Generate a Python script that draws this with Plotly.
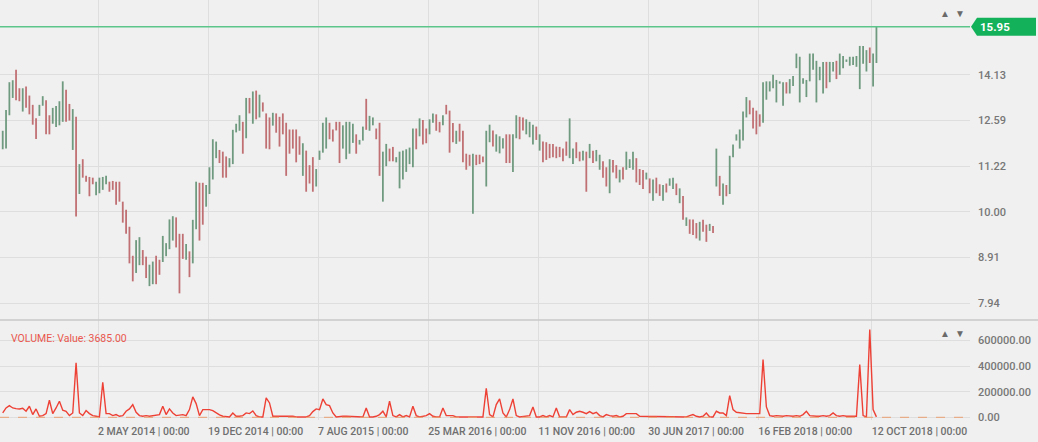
import numpy as np
import pandas as pd
import plotly.graph_objects as go

# ---------------- data ----------------
start_date = "2013-10-14"   # first weekly bar
n_weeks = 263

high = [
    12.27, 12.93, 13.87, 13.94, 14.31, 13.66, 13.66, 13.72, 13.41, 13.10,
    12.66, 13.10, 13.39, 13.25, 12.76, 13.00, 13.06, 13.22, 13.90, 13.61,
    13.13, 12.96, 12.71, 11.28, 11.42, 10.95, 10.92, 10.90, 10.79, 10.90,
    10.92, 10.95, 10.79, 10.81, 10.79, 10.79, 10.26, 10.05, 9.63, 8.95,
    9.31, 9.38, 9.08, 8.93, 8.75, 8.82, 8.95, 8.86, 9.41, 9.24,
    9.81, 9.89, 9.86, 9.46, 9.46, 9.22, 9.05, 9.80, 10.79, 10.76,
    10.76, 10.70, 11.19, 12.01, 11.94, 11.69, 11.64, 11.50, 11.45, 12.30,
    12.49, 12.76, 12.55, 13.33, 13.33, 13.55, 13.58, 13.44, 13.18, 12.82,
    12.69, 12.84, 12.82, 12.71, 12.82, 12.52, 12.31, 12.31, 12.31, 12.10,
    11.89, 11.67, 11.25, 11.48, 11.14, 11.67, 12.52, 12.69, 12.52, 12.31,
    12.55, 12.55, 12.44, 12.55, 12.55, 12.49, 12.16, 11.99, 12.40, 13.30,
    12.74, 12.69, 12.34, 12.52, 11.64, 11.87, 11.73, 11.78, 11.48, 11.64,
    11.67, 11.71, 11.76, 12.34, 12.34, 12.66, 12.61, 12.34, 12.63, 12.82,
    12.79, 12.55, 12.76, 13.10, 12.91, 12.51, 12.27, 12.49, 12.27, 11.58,
    11.55, 11.58, 11.55, 11.55, 11.50, 12.27, 12.46, 12.28, 12.16, 12.10,
    12.04, 12.16, 12.16, 12.16, 12.76, 12.71, 12.69, 12.63, 12.55, 12.46,
    12.40, 12.16, 11.94, 11.92, 11.87, 11.87, 11.79, 11.78, 11.73, 11.94,
    12.66, 11.73, 11.92, 11.64, 11.67, 11.64, 11.87, 11.67, 11.69, 11.55,
    11.36, 11.19, 11.42, 11.40, 11.25, 11.12, 11.19, 11.64, 11.42, 11.64,
    11.45, 11.14, 11.11, 11.04, 10.88, 10.85, 10.90, 10.72, 10.70, 10.74,
    10.88, 10.90, 10.74, 10.61, 10.41, 9.86, 9.81, 9.81, 9.72, 9.75,
    9.80, 9.68, 9.70, 9.65, 11.73, 10.95, 10.74, 10.70, 11.52, 11.85,
    12.16, 12.31, 12.88, 13.36, 13.25, 13.00, 12.91, 12.79, 13.87, 13.90,
    13.90, 14.13, 13.95, 13.90, 13.87, 13.87, 13.98, 14.09, 14.91, 14.79,
    14.01, 13.95, 14.91, 14.91, 14.64, 14.42, 14.60, 14.60, 14.60, 14.60,
    14.64, 14.91, 14.82, 14.69, 14.79, 14.79, 14.82, 15.20, 15.20, 15.04,
    15.14, 14.91, 15.95,
]

low = [
    11.71, 11.73, 12.76, 13.33, 13.25, 13.22, 12.88, 13.00, 12.79, 12.46,
    12.02, 12.74, 13.07, 12.16, 12.16, 12.49, 12.39, 12.44, 12.55, 12.55,
    12.59, 11.69, 9.88, 10.46, 10.90, 10.79, 10.40, 10.72, 10.43, 10.48,
    10.57, 10.72, 10.52, 10.57, 10.18, 10.26, 9.73, 9.46, 8.78, 8.39,
    8.57, 8.74, 8.74, 8.46, 8.29, 8.33, 8.33, 8.53, 8.81, 8.94,
    9.10, 9.30, 9.14, 8.14, 8.88, 8.86, 8.48, 8.78, 9.57, 9.30,
    9.68, 10.13, 10.46, 10.85, 11.45, 11.31, 10.90, 10.90, 11.19, 11.28,
    12.22, 12.27, 11.58, 12.04, 12.82, 12.49, 12.63, 12.69, 12.88, 11.73,
    11.71, 12.43, 12.21, 11.79, 12.16, 10.95, 11.58, 11.73, 11.33, 11.55,
    10.95, 10.52, 10.74, 10.52, 10.66, 11.40, 11.61, 11.73, 12.01, 11.94,
    12.28, 11.31, 11.73, 11.42, 11.58, 11.90, 11.58, 11.85, 11.97, 12.30,
    12.27, 12.44, 12.01, 10.95, 10.26, 11.22, 11.36, 11.36, 11.33, 10.61,
    10.85, 11.06, 11.28, 11.19, 11.71, 12.10, 11.85, 11.89, 12.16, 12.52,
    12.27, 12.22, 12.44, 12.79, 11.61, 11.92, 11.87, 11.94, 11.33, 11.12,
    11.23, 9.95, 11.25, 11.28, 11.33, 10.66, 11.92, 11.79, 11.64, 11.59,
    11.73, 11.31, 11.31, 11.06, 12.04, 12.01, 12.28, 12.16, 12.07, 11.85,
    11.99, 11.67, 11.33, 11.40, 11.45, 11.48, 11.45, 11.48, 11.36, 11.52,
    11.45, 11.28, 11.45, 11.36, 11.38, 10.52, 11.45, 11.31, 11.36, 11.12,
    10.90, 10.66, 10.48, 11.04, 10.88, 10.77, 10.85, 11.12, 11.17, 11.12,
    10.77, 10.70, 10.59, 10.85, 10.48, 10.28, 10.48, 10.41, 10.28, 10.50,
    10.68, 10.59, 10.43, 10.22, 9.80, 9.65, 9.46, 9.43, 9.35, 9.30,
    9.51, 9.27, 9.53, 9.48, 10.66, 10.41, 10.18, 10.40, 10.46, 11.48,
    11.97, 11.73, 11.97, 12.69, 12.79, 12.34, 12.16, 12.40, 12.52, 13.27,
    13.55, 13.66, 13.18, 13.82, 13.07, 13.48, 13.48, 13.74, 14.37, 13.18,
    13.82, 13.36, 13.90, 14.31, 13.18, 13.94, 13.48, 13.66, 13.87, 14.25,
    13.98, 14.13, 14.37, 14.60, 14.46, 14.49, 14.42, 13.63, 14.53, 14.25,
    14.56, 13.72, 14.56,
]

# u = rising week (green), d = falling week (red)
direction = "".join([
    "uuuud", "duddd", "duudd", "uuuud", "dudud", "ddduu", "uuddd", "ddddd",
    "uuddu", "udduu", "uuddd", "uduud", "duuuu", "ddduu", "uudud", "ududd",
    "duddd", "ddddd", "udddu", "uuudd", "dduuu", "uduud", "uuddu", "udduu",
    "uuuud", "udduu", "ddudd", "duddd", "duddd", "uuduu", "udduu", "dduuu",
    "duddd", "ddddd", "uuddu", "duduu", "ddudd", "uduuu", "dddud", "uddud",
    "uudud", "udddu", "ddudu", "duduu", "uuuud", "ddduu", "uuuuu", "duuuu",
    "uuuuu", "uuduu", "duuuu", "uuuuu", "duu",
])

volume = [
    34000, 73000, 91500, 73000, 68000, 65500, 70700, 47300, 86300, 21200,
    65500, 8200, 13400, 29000, 133200, 29000, 73000, 125400, 55100, 47300,
    13400, 34200, 424800, 34200, 13400, 52500, 29000, 13400, 8200, 3000,
    273800, 29000, 29000, 13400, 21200, 8200, 13400, 47300, 65500, 99300,
    39500, 13400, 8200, 13400, 8200, 13400, 13400, 21200, 86300, 21200,
    65500, 34200, 13400, 18600, 21200, 13400, 60300, 159200, 107200, 13400,
    60300, 60300, 60300, 52500, 34200, 18600, 8200, 3000, 3000, 34200,
    8200, 8200, 13400, 34200, 29000, 49900, 13400, 3000, 3000, 151400,
    112400, 8200, 8200, 8200, 8200, 13400, 8200, 8200, 3000, 3000,
    3000, 3000, 13400, 44700, 65500, 60300, 143600, 99300, 91500, 34200,
    3000, 8200, 8200, 8200, 8200, 3000, 3000, 3000, 3000, 73000,
    3000, 3000, 8200, 21200, 47300, 3000, 125400, 13400, 3000, 21200,
    3000, 13400, 3000, 86300, 13400, 3000, 8200, 13400, 29000, 8200,
    3000, 3000, 73000, 13400, 13400, 13400, 3000, 3000, 8200, 3000,
    3000, 8200, 3000, 8200, 3000, 227000, 21200, 3000, 99300, 143600,
    34200, 3000, 60300, 143600, 13400, 3000, 8200, 13400, 13400, 81100,
    3000, 3000, 13400, 3000, 13400, 3000, 73000, 3000, 3000, 3000,
    60300, 21200, 39500, 47300, 39500, 29000, 44700, 29000, 39500, 13400,
    3000, 21200, 13400, 8200, 13400, 3000, 8200, 29000, 29000, 29000,
    29000, 8200, 8200, 3000, 3000, 3000, 3000, 3000, 3000, 3000,
    3000, 3000, 3000, 8200, 8200, 3000, 13400, 21200, 8200, 3000,
    8200, 34200, 3000, 3000, 47300, 34200, 34200, 13400, 169700, 60300,
    39500, 34200, 34200, 29000, 29000, 29000, 34200, 29000, 450900, 81100,
    13400, 8200, 13400, 8200, 8200, 13400, 8200, 8200, 13400, 8200,
    21200, 47300, 13400, 8200, 8200, 8200, 13400, 8200, 13400, 34200,
    13400, 8200, 13400, 8200, 8200, 13400, 8200, 411800, 13400, 3000,
    685200, 60300, 3685,
]

tick_dates = ["2014-05-02", "2014-12-19", "2015-08-07", "2016-03-25",
              "2016-11-11", "2017-06-30", "2018-02-16", "2018-10-12"]
tick_labels = ["2 MAY 2014 | 00:00", "19 DEC 2014 | 00:00", "7 AUG 2015 | 00:00",
               "25 MAR 2016 | 00:00", "11 NOV 2016 | 00:00", "30 JUN 2017 | 00:00",
               "16 FEB 2018 | 00:00", "12 OCT 2018 | 00:00"]
price_ticks = [7.94, 8.91, 10.00, 11.22, 12.59, 14.13]
volume_ticks = [0, 200000, 400000, 600000]
last_price = 15.95
last_volume = 3685.00

assert len(high) == n_weeks and len(low) == n_weeks
assert len(direction) == n_weeks and len(volume) == n_weeks

# ---------------- build ----------------
dates = pd.date_range(start_date, periods=n_weeks, freq="7D")
opens = [lo if d == "u" else hi for hi, lo, d in zip(high, low, direction)]
closes = [hi if d == "u" else lo for hi, lo, d in zip(high, low, direction)]

GREEN = "#6f9a7f"
RED = "#c07073"
GRID = "#dedede"
AXIS_TXT = "#777777"

t0 = pd.Timestamp(start_date)
x_range = [str(t0 - pd.Timedelta(days=5.7)), str(t0 + pd.Timedelta(days=2030.4))]

VOL_FRAC = 100 / 420

fig = go.Figure()
fig.add_trace(go.Ohlc(
    x=dates, open=opens, high=high, low=low, close=closes,
    xaxis="x", yaxis="y", tickwidth=0,
    increasing=dict(line=dict(color=GREEN, width=1.8)),
    decreasing=dict(line=dict(color=RED, width=1.8)),
    hoverinfo="skip", showlegend=False,
))
fig.add_trace(go.Scatter(
    x=dates, y=volume, mode="lines", xaxis="x2", yaxis="y2",
    line=dict(color="#ee4136", width=1.4), hoverinfo="skip", showlegend=False,
))

fig.update_layout(
    width=1038, height=442,
    margin=dict(l=0, r=68, t=0, b=22),
    paper_bgcolor="#f0f0f0", plot_bgcolor="#f0f0f0",
    font=dict(family="Roboto, sans-serif", color=AXIS_TXT, size=10.5),
    showlegend=False,
    xaxis=dict(domain=[0, 1], anchor="y", type="date", range=x_range,
               tickvals=tick_dates, showticklabels=False, ticks="",
               showgrid=True, gridcolor=GRID, gridwidth=1, zeroline=False,
               showline=False, rangeslider=dict(visible=False), automargin=False),
    xaxis2=dict(domain=[0, 1], anchor="y2", type="date", range=x_range, matches="x",
                tickvals=tick_dates, ticktext=tick_labels, ticks="",
                ticklabelposition="outside right", ticklabelstandoff=3,
                tickfont=dict(size=10.5, color="#6f6f6f", weight=500),
                showgrid=True, gridcolor=GRID, gridwidth=1, zeroline=False,
                showline=False, automargin=False),
    yaxis=dict(domain=[VOL_FRAC, 1], anchor="x", type="log", side="right",
               range=[0.8814, 1.2322], tickvals=price_ticks,
               ticktext=[f"{v:.2f}" for v in price_ticks], ticks="",
               ticklabelstandoff=7,
               tickfont=dict(size=11, color="#777777", weight=500),
               showgrid=True, gridcolor=GRID, gridwidth=1, zeroline=False,
               showline=False, automargin=False),
    yaxis2=dict(domain=[0, VOL_FRAC], anchor="x2", side="right",
                range=[-21000, 760000], tickvals=volume_ticks,
                ticktext=[f"{v:.2f}" for v in volume_ticks], ticks="",
                ticklabelstandoff=7,
                tickfont=dict(size=11, color="#777777", weight=500),
                showgrid=True, gridcolor=GRID, gridwidth=1, zeroline=False,
                showline=False, automargin=False),
)

# last price line and tag
fig.add_shape(type="line", xref="paper", x0=0, x1=1, yref="y",
              y0=last_price, y1=last_price, line=dict(color="#5cc58a", width=1.5))
fig.add_shape(type="path", xref="paper", xsizemode="pixel", xanchor=1,
              yref="y", ysizemode="pixel", yanchor=last_price,
              path="M1,0 L7,9 L66,9 L66,-9 L7,-9 Z",
              fillcolor="#14b15b", line=dict(width=0))
fig.add_annotation(xref="paper", x=1, xshift=8, xanchor="left",
                   yref="y", y=np.log10(last_price), yanchor="middle",
                   text=f"<b>{last_price:.2f}</b>", showarrow=False,
                   font=dict(family="Roboto, sans-serif", size=11.5, color="white"))

# panel separator and volume zero line
fig.add_shape(type="line", xref="paper", x0=0, x1=1.08, yref="paper",
              y0=VOL_FRAC, y1=VOL_FRAC, line=dict(color="#c9c9c9", width=1.5))
fig.add_shape(type="line", xref="paper", x0=0, x1=1, yref="y2", y0=0, y1=0,
              line=dict(color="#e8a172", width=1, dash="dash"))

# panel arrows
for yy in (1 - 13 / 420, 1 - 333 / 420):
    for xx, sym in ((945 / 970, "▲"), (960 / 970, "▼")):
        fig.add_annotation(xref="paper", yref="paper", x=xx, y=yy, text=sym,
                           showarrow=False, xanchor="center", yanchor="middle",
                           font=dict(size=10, color="#6a6a6a"))

fig.add_annotation(xref="paper", yref="paper", x=9 / 970, y=1 - 338 / 420,
                   xanchor="left", yanchor="middle", showarrow=False,
                   text=f"VOLUME: Value: {last_volume:.2f}",
                   font=dict(family="Roboto, sans-serif", size=10.5, color="#e9574e"))

fig.write_html(
    "out.html",
    config={"displayModeBar": False},
    post_script="document.body.style.margin='0';document.body.style.overflow='hidden';",
)
